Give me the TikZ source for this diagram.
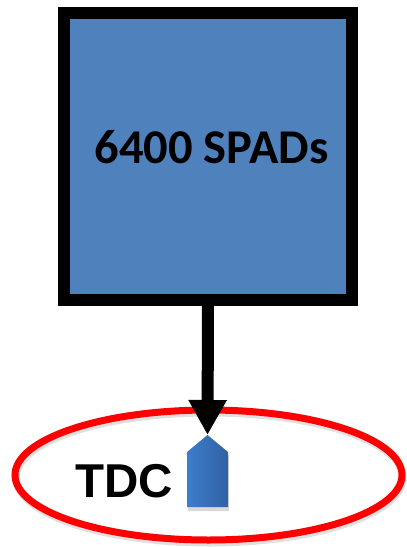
\documentclass[tikz,border=0pt]{standalone}
\usepackage{fontspec}
\newfontfamily\calibrifont{Carlito}
\newfontfamily\arialfont{Liberation Sans}
\usetikzlibrary{arrows.meta,shadows}
\definecolor{boxblue}{HTML}{4F81BD}
\definecolor{tdcleft}{HTML}{3D7DCB}
\definecolor{tdcright}{HTML}{2F62A3}
\definecolor{ringred}{HTML}{FF0000}
\tikzset{
  spadbox/.style={draw=black, line width=12pt, fill=boxblue, inner sep=0pt,
    minimum width=288pt, minimum height=287pt},
  bigarrow/.style={line width=12pt, -{Triangle[length=35pt, width=36pt]}},
  ring/.style={draw=ringred, line width=7pt},
  tdcbody/.style={left color=tdcleft, right color=tdcright, draw=none,
    drop shadow={opacity=0.3, shadow xshift=1pt, shadow yshift=-4pt}},
}
\begin{document}
\begin{tikzpicture}[x=1pt, y=-1pt]
  \useasboundingbox (0,0) rectangle (407,547);

  % detector block
  \node[spadbox] (spads) at (208,156.5) {};
  \node[anchor=base, inner sep=0pt] (spadtext) at (211.5,163.3)
    {\calibrifont\bfseries\fontsize{48.5}{52}\selectfont 6400 SPADs};

  % TDC group outline with its soft shadow
  \draw[line width=7pt, black, opacity=0.12] (209.5,478) ellipse [x radius=193.5, y radius=65];
  \draw[ring] (208.5,475) ellipse [x radius=193.5, y radius=65];
  \node[anchor=base west, inner sep=0pt] (tdctext) at (75,497)
    {\arialfont\bfseries\fontsize{47.5}{50}\selectfont TDC};

  % TDC pentagon marker
  \coordinate (tdc) at (207.5,435);
  \path[tdcbody] (tdc) -- (228,452) -- (228,507) -- (187,507) -- (187,452) -- cycle;

  % signal path
  \draw[bigarrow] (spads.south) -- (tdc);
\end{tikzpicture}
\end{document}
